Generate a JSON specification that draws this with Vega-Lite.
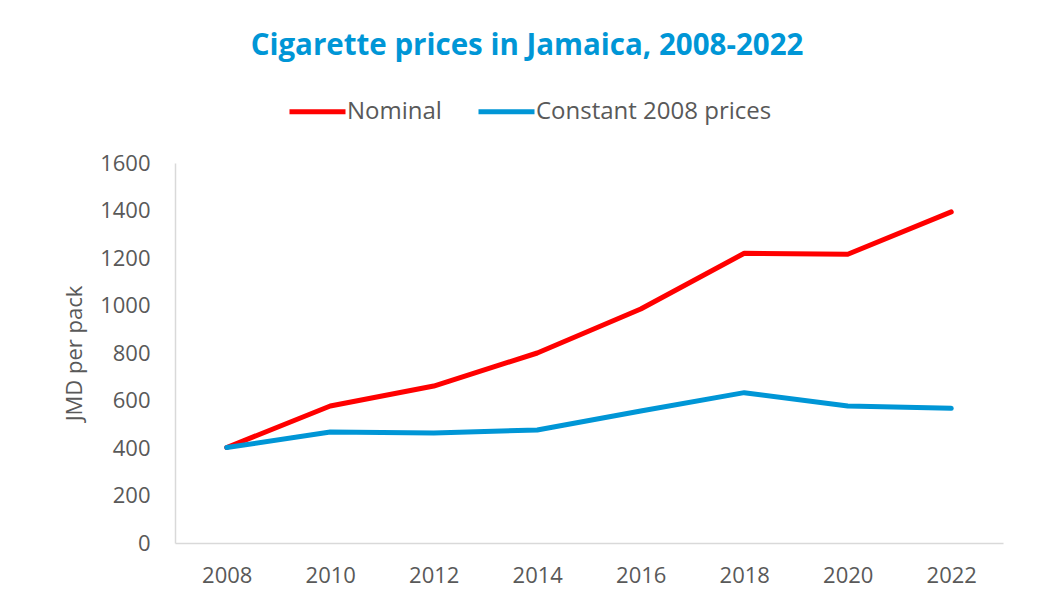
{
  "$schema": "https://vega.github.io/schema/vega-lite/v6.json",
  "width": 828,
  "height": 380,
  "autosize": {"type": "none"},
  "padding": {"left": 175, "top": 163, "right": 38, "bottom": 60},
  "background": "white",
  "title": {
    "text": "Cigarette prices in Jamaica, 2008-2022",
    "font": "Open Sans",
    "fontSize": 29.5,
    "fontWeight": "bold",
    "color": "#0096D6",
    "anchor": "middle",
    "dx": -62,
    "offset": 20
  },
  "data": {
    "values": [
      {"year": "2008", "series": "Nominal", "price": 402},
      {"year": "2010", "series": "Nominal", "price": 577},
      {"year": "2012", "series": "Nominal", "price": 661},
      {"year": "2014", "series": "Nominal", "price": 800},
      {"year": "2016", "series": "Nominal", "price": 985},
      {"year": "2018", "series": "Nominal", "price": 1220},
      {"year": "2020", "series": "Nominal", "price": 1216},
      {"year": "2022", "series": "Nominal", "price": 1394},
      {"year": "2008", "series": "Constant 2008 prices", "price": 402},
      {"year": "2010", "series": "Constant 2008 prices", "price": 467},
      {"year": "2012", "series": "Constant 2008 prices", "price": 463},
      {"year": "2014", "series": "Constant 2008 prices", "price": 476},
      {"year": "2016", "series": "Constant 2008 prices", "price": 556},
      {"year": "2018", "series": "Constant 2008 prices", "price": 633},
      {"year": "2020", "series": "Constant 2008 prices", "price": 577},
      {"year": "2022", "series": "Constant 2008 prices", "price": 567}
    ]
  },
  "mark": {"type": "line", "strokeWidth": 5, "strokeCap": "round", "strokeJoin": "round"},
  "encoding": {
    "x": {
      "field": "year",
      "type": "ordinal",
      "scale": {"type": "point", "padding": 0.5},
      "axis": {
        "title": null,
        "labelAngle": 0,
        "labelFont": "Open Sans",
        "labelFontSize": 22,
        "labelColor": "#595959",
        "labelPadding": 22,
        "ticks": false,
        "domainColor": "#D9D9D9",
        "domainWidth": 1.5,
        "grid": false
      }
    },
    "y": {
      "field": "price",
      "type": "quantitative",
      "scale": {"domain": [0, 1600], "nice": false},
      "axis": {
        "title": "JMD per pack",
        "titleFont": "Open Sans",
        "titleFontSize": 22,
        "titleFontWeight": "normal",
        "titleColor": "#595959",
        "titlePadding": 13,
        "format": "d",
        "values": [0, 200, 400, 600, 800, 1000, 1200, 1400, 1600],
        "labelFont": "Open Sans",
        "labelFontSize": 22,
        "labelColor": "#595959",
        "labelPadding": 25,
        "ticks": false,
        "domainColor": "#D9D9D9",
        "domainWidth": 1.5,
        "grid": false
      }
    },
    "color": {
      "field": "series",
      "type": "nominal",
      "sort": ["Nominal", "Constant 2008 prices"],
      "scale": {"domain": ["Nominal", "Constant 2008 prices"], "range": ["#FF0000", "#0096D6"]},
      "legend": {
        "title": null,
        "orient": "none",
        "legendX": 112,
        "legendY": -82,
        "direction": "horizontal",
        "symbolType": "stroke",
        "symbolSize": 3136,
        "symbolStrokeWidth": 5,
        "labelFont": "Open Sans",
        "labelFontSize": 24,
        "labelLimit": 400,
        "labelColor": "#595959",
        "labelOffset": -1,
        "columnPadding": 26
      }
    }
  },
  "config": {"view": {"stroke": null}}
}
